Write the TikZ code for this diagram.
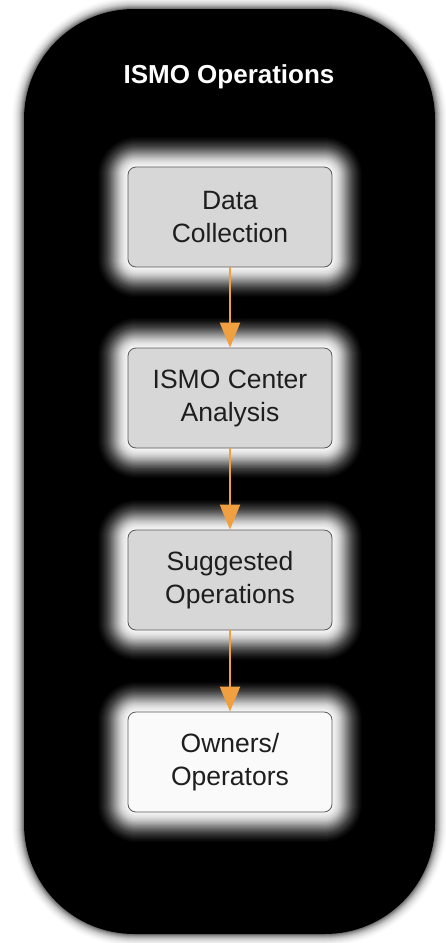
\documentclass[tikz,border=0pt]{standalone}
\usepackage{fontspec}
\setmainfont{Liberation Sans}
\usepackage{xcolor}
\usepackage{tikz}
\usetikzlibrary{arrows.meta}
\definecolor{panel}{HTML}{000000}
\definecolor{boxgray}{HTML}{D7D7D7}
\definecolor{boxwhite}{HTML}{FAFAFA}
\definecolor{edge}{HTML}{5A5A5A}
\definecolor{ink}{HTML}{1E1E1E}
\definecolor{flow}{HTML}{F0A040}
\tikzset{
  stage/.style={draw=edge, line width=0.8pt, fill=boxgray, rounded corners=8pt,
    minimum width=204pt, minimum height=100pt, inner sep=0pt, align=center,
    text=ink, font=\fontsize{26.5}{33}\selectfont},
  last/.style={stage, fill=boxwhite},
  title/.style={text=white, font=\fontsize{26}{30}\selectfont\bfseries},
  flowarrow/.style={draw=flow, line width=2pt, -{Triangle[length=25pt,width=20pt]}}
}

\begin{document}
\begin{tikzpicture}[x=1pt,y=1pt]
  \useasboundingbox (0,0) rectangle (445,-943);
  % soft edge of the panel
  \foreach \k in {1,...,12}{
    \pgfmathsetmacro\op{0.22*exp(-\k/4)}
    \fill[black, opacity=\op, rounded corners={110+\k}] (24-\k,-9+\k) rectangle (435+\k,-934-\k);
  }
  \fill[panel, rounded corners=110pt] (24,-9) rectangle (435,-934);
  % glow round the stages
  \foreach \yc in {217,398,580,762}{
    \foreach \k in {1,...,30}{
      \pgfmathsetmacro\op{0.4*exp(-\k/10)}
      \fill[white, opacity=\op, rounded corners={8+\k}] (128-\k,-\yc+50+\k) rectangle (332+\k,-\yc-50-\k);
    }
  }
  \node[title] (head) at (229,-77) {ISMO Operations};
  \node[stage] (collect) at (230,-217) {Data\\Collection};
  \node[stage] (analysis) at (230,-398) {ISMO Center\\Analysis};
  \node[stage] (suggest) at (230,-580) {Suggested\\Operations};
  \node[last] (owners) at (230,-762) {Owners/\\Operators};
  \draw[flowarrow] (collect) -- (analysis);
  \draw[flowarrow] (analysis) -- (suggest);
  \draw[flowarrow] (suggest) -- (owners);
\end{tikzpicture}
\end{document}
